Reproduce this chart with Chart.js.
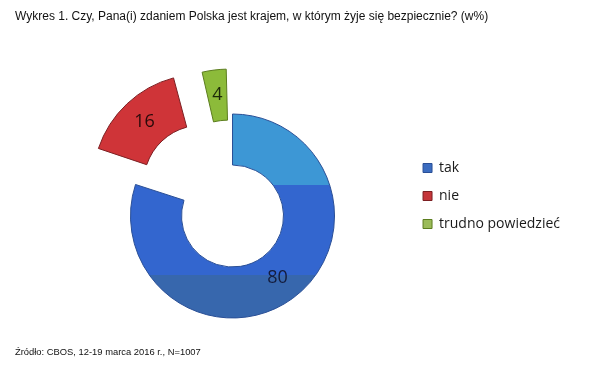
<!DOCTYPE html>
<html>
<head>
<meta charset="utf-8">
<script src="https://cdn.jsdelivr.net/npm/chart.js@4.4.1/dist/chart.umd.min.js"></script>
<style>
  body { margin: 0; background: #fff; }
  #wrap { position: relative; width: 597px; height: 378px; }
  #myChart { position: absolute; left: 0; top: 0; }
  #title { position: absolute; left: 15px; top: 9px; font: 12px "Liberation Sans", Arial, sans-serif; color: #111; white-space: nowrap; }
  #source { position: absolute; left: 15px; top: 346px; font: 9.4px "Liberation Sans", Arial, sans-serif; color: #111; white-space: nowrap; }
</style>
</head>
<body>
<div id="wrap">
  <canvas id="myChart" width="597" height="378"></canvas>
  <div id="title">Wykres 1. Czy, Pana(i) zdaniem Polska jest krajem, w którym żyje się bezpiecznie? (w%)</div>
  <div id="source">Źródło: CBOS, 12-19 marca 2016 r., N=1007</div>
</div>
<script>
// chart data
var categories = ["tak", "nie", "trudno powiedzieć"];
var values = [80, 16, 4];

// styles
var sliceColors = ["#3366cf", "#cf3438", "#8cbb3a"];
var borderColors = ["#2a4f96", "#7c1f22", "#5c7d1f"];
var legendColors = ["#3b6cc0", "#c5363a", "#9bbb59"];
var labelColors = ["#141c3c", "#2a0a0a", "#1c2a08"];
var sliceOffsets = [0, 180, 103];

// blue slice has the banded excel look
function sliceFill(c) {
  if (c.dataIndex !== 0) return sliceColors[c.dataIndex];
  var area = c.chart.chartArea;
  if (!area) return sliceColors[0];
  var cy = (area.top + area.bottom) / 2;
  var g = c.chart.ctx.createLinearGradient(0, cy - 102, 0, cy + 102);
  g.addColorStop(0, "#3d97d5");
  g.addColorStop(0.348, "#3d97d5");
  g.addColorStop(0.349, "#3366cf");
  g.addColorStop(0.789, "#3366cf");
  g.addColorStop(0.79, "#3767ad");
  g.addColorStop(1, "#3767ad");
  return g;
}

// numbers on the slices, placed where the (shifted) arc is actually drawn
var valueLabels = {
  id: "valueLabels",
  afterDatasetsDraw: function(chart) {
    var ctx = chart.ctx;
    var meta = chart.getDatasetMeta(0);
    ctx.save();
    ctx.font = '18px "Open Sans"';
    ctx.textAlign = "center";
    ctx.textBaseline = "middle";
    meta.data.forEach(function(arc, i) {
      var mid = (arc.startAngle + arc.endAngle) / 2;
      var off = (arc.options.offset || 0) / 4;
      var fix = 1 - Math.sin(Math.min(Math.PI, arc.circumference));
      var r = (arc.innerRadius + arc.outerRadius) / 2 + off * (1 + fix);
      ctx.fillStyle = labelColors[i];
      ctx.fillText(values[i], arc.x + Math.cos(mid) * r, arc.y + Math.sin(mid) * r);
    });
    ctx.restore();
  }
};

new Chart("myChart", {
  type: "doughnut",
  data: {
    labels: categories,
    datasets: [{
      data: values,
      backgroundColor: sliceFill,
      borderColor: borderColors,
      borderWidth: 1,
      offset: sliceOffsets,
      hoverOffset: 0,
      clip: false
    }]
  },
  options: {
    responsive: false,
    animation: false,
    radius: 102,
    cutout: "50%",
    layout: { padding: { left: 56, right: 27, top: 147, bottom: 93 } },
    plugins: {
      tooltip: { enabled: false },
      legend: {
        position: "right",
        align: "start",
        labels: {
          boxWidth: 9,
          boxHeight: 9,
          padding: 14,
          color: "#1a1a1a",
          font: { family: "Open Sans", size: 14 },
          generateLabels: function(chart) {
            var items = Chart.overrides.doughnut.plugins.legend.labels.generateLabels(chart);
            items.forEach(function(it, i) {
              it.fillStyle = legendColors[i];
              it.strokeStyle = borderColors[i];
              it.lineWidth = 1;
            });
            return items;
          }
        }
      }
    }
  },
  plugins: [valueLabels]
});
</script>
</body>
</html>
